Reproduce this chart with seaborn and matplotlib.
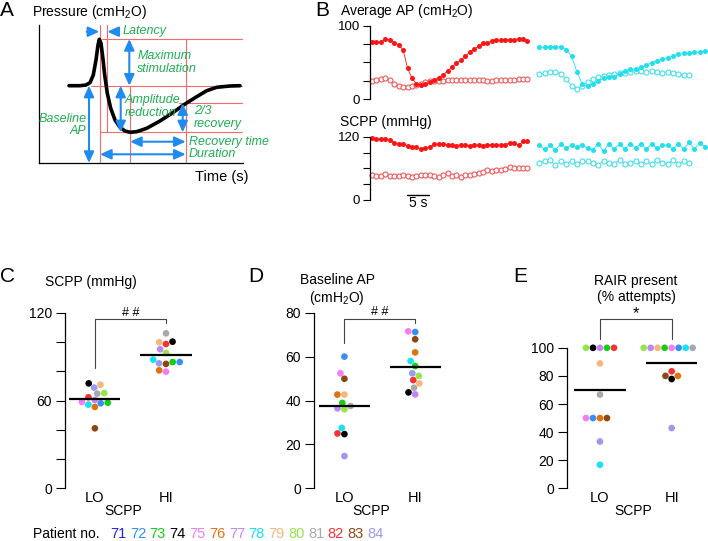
import numpy as np
import pandas as pd
import seaborn as sns
import matplotlib.pyplot as plt

# ---------------- data ----------------
PATIENTS = [71, 72, 73, 74, 75, 76, 77, 78, 79, 80, 81, 82, 83, 84]
PATIENT_COLORS = ['#2323e0', '#3590f2', '#12cf12', '#000000', '#f47cf4', '#e0720f',
                  '#c286f4', '#16e2f2', '#f8b67c', '#95e648', '#a9a9a9', '#f43434',
                  '#8d4812', '#9a9af0']

# C, D, E: one value per patient (patient 71 is not plotted)
SCPP_LO = [None, 58.1, 58.5, 71.7, 59.0, 55.6, 60.4, 57.2, 70.8, 65.1, 64.7, 62.2, 41.0, 68.8]
SCPP_HI = [None, 86.3, 86.3, 100.2, 79.7, 80.6, 95.0, 87.9, 99.8, 92.5, 105.9, 98.6, 85.0, 85.4]
BASE_AP_LO = [None, 60.0, 38.9, 24.7, 52.4, 42.7, 36.4, 27.5, 42.7, 36.0, 37.5, 25.0, 49.9, 14.7]
BASE_AP_HI = [None, 71.2, 55.7, 43.7, 71.5, 61.9, 42.8, 58.0, 47.8, 51.2, 45.8, 49.3, 67.9, 52.4]
RAIR_LO = [None, 50.0, 100, 100, 50.0, 50.0, 100, 16.7, 88.9, 100, 66.7, 100, 50.0, 33.3]
RAIR_HI = [None, 100, 100, 77.8, 100, 80.0, 100, 100, 100, 100, 100, 83.3, 80.0, 42.9]

# B: example traces (red = low SCPP, cyan = high SCPP)
RED_T0, RED_DT = 0.45, 0.98
CYAN_T0, CYAN_DT = 37.4, 1.18
RED_AP_FILLED = [78, 78, 78, 82, 81, 77, 74, 67, 42, 28, 21, 19, 21, 23, 26, 29, 33, 38,
                 44, 49, 53, 58, 64, 68, 72, 76, 77, 79, 80, 80, 81, 81, 81, 82, 82, 79]
RED_AP_OPEN = [24, 26, 27, 29, 26, 20, 18, 17, 17, 18, 19, 21, 23, 24, 25, 25, 25, 26,
               26, 26, 26, 26, 26, 26, 26, 26, 25, 25, 26, 26, 26, 26, 26, 27, 27, 27]
CYAN_AP_FILLED = [70.5, 70.9, 71.4, 71.4, 71.4, 67.3, 58.6, 37.3, 20.5, 17.7, 20.0, 24.5,
                  28.2, 30.5, 30.5, 34.1, 38.2, 40.5, 40.5, 43.2, 46.4, 49.5, 52.3, 54.1,
                  56.4, 58.6, 60.9, 62.3, 63.2, 63.6, 64.5, 65.9]
CYAN_AP_OPEN = [34, 35.5, 37, 37.5, 34, 27, 18, 13, 18, 23.5, 27, 29.5, 31.5, 32.5, 34,
                35, 36, 37, 38.5, 38, 37, 38.5, 37.5, 36, 37, 35, 34, 32.5, 32.5]
RED_SCPP_FILLED = [117, 116, 116, 116, 114, 109, 107, 106, 103, 101, 100, 96, 98, 101, 106,
                   106, 106, 104, 104, 103, 105, 104, 103, 104, 104, 103, 104, 105, 105, 104,
                   105, 108, 108, 104, 111, 111]
RED_SCPP_OPEN = [47, 46, 46, 49, 46, 46, 46, 47, 46, 44, 46, 47, 47, 47, 46, 44, 48, 51,
                 45, 47, 44, 47, 48, 50, 51, 53, 56, 55, 57, 56, 58, 62, 60, 61, 61, 61]
CYAN_SCPP_FILLED = [105, 96, 104, 95, 107, 98, 104, 101, 104, 98, 95, 107, 92, 107, 96, 107,
                    96, 107, 98, 107, 96, 107, 98, 104, 104, 96, 107, 96, 110, 96, 109, 100]
CYAN_SCPP_OPEN = [71, 73, 75, 66, 74, 69, 74, 69, 74, 73, 71, 66, 74, 71, 69, 76, 69, 71,
                  74, 69, 73, 68, 76, 71, 69, 75, 68, 74, 70]

# A: schematic pressure trace (arbitrary units)
SCHEMA_T = [30, 41, 47, 51, 54.3, 57, 59, 60.3, 62, 63.7, 65.7, 68.3, 71.7, 76, 81, 86, 91,
            97.7, 107.7, 121, 134.3, 146, 157.7, 167.7, 177.7, 191, 201]
SCHEMA_P = [77.3, 77.3, 78, 80.3, 88, 103, 118, 123.7, 119.7, 106.3, 88, 69.7, 54.7, 43,
            35.7, 32, 30.7, 31.3, 34.7, 42, 50.7, 59, 66.3, 72.3, 75.7, 77, 77.3]

# ---------------- style ----------------
sns.set_theme(style='ticks')
plt.rcParams['font.family'] = ['Liberation Sans', 'DejaVu Sans']
plt.rcParams['mathtext.fontset'] = 'custom'
plt.rcParams['mathtext.rm'] = 'Liberation Sans'
plt.rcParams['mathtext.it'] = 'Liberation Sans:italic'
plt.rcParams['axes.edgecolor'] = 'black'
plt.rcParams['axes.linewidth'] = 0.9
plt.rcParams['xtick.color'] = 'black'
plt.rcParams['ytick.color'] = 'black'
plt.rcParams['text.color'] = 'black'

W, H = 708, 541
fig = plt.figure(figsize=(W / 100, H / 100), dpi=100)


def px_axes(left, top, right, bottom):
    return fig.add_axes([left / W, 1 - bottom / H, (right - left) / W, (bottom - top) / H])


def ftext(x, y, s, **kw):
    kw.setdefault('va', 'center')
    kw.setdefault('fontsize', 10)
    fig.text(x / W, 1 - y / H, s, **kw)


# ---------------- panel A ----------------
RED_GUIDE = '#f36c6c'
BLUE = '#1f8bf0'
GREEN = '#1fae52'

axA = px_axes(39, 25, 243.3, 163)
axA.set_xlim(0, 204.3)
axA.set_ylim(0, 138)
sns.despine(ax=axA)
axA.set_xticks([])
axA.set_yticks([])

guides = [(61, 61, 0, 138), (67.7, 67.7, 30.7, 138), (62.7, 202.7, 124, 124),
          (52, 202.7, 77.3, 77.3), (140, 202.7, 59.7, 59.7), (61, 202.7, 30.7, 30.7),
          (91, 91, 0, 77.3), (146.7, 146.7, 0, 124)]
for x0, x1, y0, y1 in guides:
    axA.plot([x0, x1], [y0, y1], color=RED_GUIDE, lw=0.8, zorder=1)

sns.lineplot(x=SCHEMA_T, y=SCHEMA_P, ax=axA, color='black', lw=2.6, sort=False, zorder=3)


def arrow(x0, y0, x1, y1, style='<|-|>'):
    axA.annotate('', xy=(x1, y1), xytext=(x0, y0),
                 arrowprops=dict(arrowstyle=style + ',head_length=0.55,head_width=0.25',
                                 color=BLUE, lw=1.5, shrinkA=0, shrinkB=0), zorder=4)


arrow(47.7, 131.3, 60.3, 131.3, '-|>')
arrow(79.3, 131.3, 68.3, 131.3, '-|>')
arrow(90.3, 124, 90.3, 77.3)
arrow(50, 77.3, 50, 0)
arrow(81.7, 77.3, 81.7, 30.7)
arrow(143.7, 59.7, 143.7, 30.7)
arrow(91, 21.3, 146.7, 21.3)
arrow(61, 8.7, 146.7, 8.7)

gkw = dict(color=GREEN, style='italic', fontsize=9, va='center', linespacing=1.1, zorder=6)
axA.text(83.7, 132.3, 'Latency', **gkw)
axA.text(98.3, 100.3, 'Maximum\nstimulation', **gkw)
axA.text(85.5, 56.3, 'Amplitude\nreduction', **gkw)
axA.text(47.7, 38, 'Baseline\nAP', ha='right', **gkw)
axA.text(155, 45.7, '2/3\nrecovery', **gkw)
axA.text(150, 21.3, 'Recovery time', **gkw)
axA.text(150, 8.7, 'Duration', **gkw)

ftext(0, 11, 'A', fontsize=15)
ftext(32, 12, 'Pressure (cmH$_2$O)', fontsize=10)
ftext(222, 177, 'Time (s)', ha='center', fontsize=10.5)

# ---------------- panel B ----------------
RED = '#ff1414'
RED_OPEN = '#ef5a5a'
CYAN = '#1fe0ef'
CYAN_OPEN = '#45dfee'

axB1 = px_axes(370, 25.7, 708, 99)
axB2 = px_axes(370, 136.7, 708, 200)


def trace(ax, t0, dt, values, color, filled):
    t = t0 + dt * np.arange(len(values))
    if filled:
        kw = dict(markerfacecolor=color, markeredgecolor=color, markeredgewidth=0)
    else:
        kw = dict(markerfacecolor='white', markeredgecolor=color, markeredgewidth=0.8)
    sns.lineplot(x=t, y=values, ax=ax, color=color, lw=0.6, sort=False, errorbar=None,
                 marker='o', markersize=3.6, clip_on=False, **kw)


trace(axB1, RED_T0, RED_DT, RED_AP_OPEN, RED_OPEN, False)
trace(axB1, RED_T0, RED_DT, RED_AP_FILLED, RED, True)
trace(axB1, CYAN_T0, CYAN_DT, CYAN_AP_OPEN, CYAN_OPEN, False)
trace(axB1, CYAN_T0, CYAN_DT, CYAN_AP_FILLED, CYAN, True)
trace(axB2, RED_T0, RED_DT, RED_SCPP_OPEN, RED_OPEN, False)
trace(axB2, RED_T0, RED_DT, RED_SCPP_FILLED, RED, True)
trace(axB2, CYAN_T0, CYAN_DT, CYAN_SCPP_OPEN, CYAN_OPEN, False)
trace(axB2, CYAN_T0, CYAN_DT, CYAN_SCPP_FILLED, CYAN, True)

for ax, ymax, ticks, labels in [(axB1, 100, [0, 25, 50, 75, 100], ['0', '', '', '', '100']),
                                (axB2, 120, [0, 30, 60, 90, 120], ['0', '', '', '', '120'])]:
    ax.set_xlim(0, 74.6)
    ax.set_ylim(0, ymax)
    sns.despine(ax=ax, bottom=True)
    ax.set_xticks([])
    ax.set_yticks(ticks, labels)
    ax.tick_params(axis='y', length=5, width=0.8, pad=2, labelsize=9.5)
    ax.set_xlabel('')
    ax.set_ylabel('')

# 5 s scale bar
axB2.plot([8.1, 13.1], [9, 9], color='black', lw=1.0, clip_on=False)
axB2.text(10.6, -5.5, '5 s', ha='center', va='center', fontsize=10)

ftext(315, 11, 'B', fontsize=15)
ftext(340, 11, 'Average AP (cmH$_2$O)', fontsize=10)
ftext(340, 122, 'SCPP (mmHg)', fontsize=10)

# ---------------- panels C, D, E ----------------
palette = dict(zip([str(p) for p in PATIENTS], PATIENT_COLORS))


def dot_panel(ax, lo, hi):
    df = pd.DataFrame({
        'patient': [str(p) for p in PATIENTS] * 2,
        'group': ['LO'] * len(lo) + ['HI'] * len(hi),
        'value': lo + hi,
    }).dropna()
    sns.swarmplot(data=df, x='group', y='value', hue='patient', order=['LO', 'HI'],
                  hue_order=[str(p) for p in PATIENTS], palette=palette,
                  size=4.8, linewidth=0, legend=False, ax=ax)
    means = df.groupby('group')['value'].mean()
    for i, g in enumerate(['LO', 'HI']):
        ax.hlines(means[g], i - 0.36, i + 0.36, color='black', lw=1.6, zorder=5)
    sns.despine(ax=ax, bottom=True)
    ax.set_xlabel('')
    ax.set_ylabel('')
    ax.tick_params(axis='x', length=0, pad=2, labelsize=10.5)
    ax.tick_params(axis='y', length=6.5, width=0.8, pad=3, labelsize=10)


def bracket(ax, top, left_end, right_end, label, label_y, size):
    ax.plot([0, 0, 1, 1], [left_end, top, top, right_end], color='#444444', lw=0.8,
            clip_on=False)
    ax.text(0.5, label_y, label, ha='center', va='center', fontsize=size)


axC = px_axes(65, 312.7, 198, 488.3)
dot_panel(axC, SCPP_LO, SCPP_HI)
axC.set_xlim(-0.42, 1.45)
axC.set_ylim(0, 120)
axC.set_yticks(range(0, 121, 20), ['0', '', '', '60', '', '', '120'])
bracket(axC, 115.7, 82.2, 113.2, '# #', 119.9, 9)

axD = px_axes(314, 312.7, 447, 488.3)
dot_panel(axD, BASE_AP_LO, BASE_AP_HI)
axD.set_xlim(-0.43, 1.45)
axD.set_ylim(0, 80)
axD.set_yticks(range(0, 81, 20))
bracket(axD, 77.3, 66.3, 75.4, '# #', 80.1, 9)

axE = px_axes(567, 312.7, 707.5, 488.3)
dot_panel(axE, RAIR_LO, RAIR_HI)
axE.set_xlim(-0.46, 1.5)
axE.set_ylim(0, 125)
axE.set_yticks(range(0, 101, 20))
axE.spines['left'].set_bounds(0, 100)
bracket(axE, 120.6, 106.2, 106.2, '*', 124.5, 12)

ftext(0, 277, 'C', fontsize=15)
ftext(91, 282, 'SCPP (mmHg)', ha='center')
ftext(248, 277, 'D', fontsize=15)
ftext(337, 290, 'Baseline AP\n(cmH$_2$O)', ha='center', linespacing=1.15)
ftext(513, 277, 'E', fontsize=15)
ftext(636, 289, 'RAIR present\n(% attempts)', ha='center', linespacing=1.15)

for x in (123, 371, 633):
    ftext(x, 511, 'SCPP', ha='center')

# patient colour key
ftext(33, 534, 'Patient no.')
for i, (p, c) in enumerate(zip(PATIENTS, PATIENT_COLORS)):
    ftext(110 + 19.8 * i, 534, str(p), color=c, fontsize=10.5)

fig.savefig('out.png', dpi=100)
